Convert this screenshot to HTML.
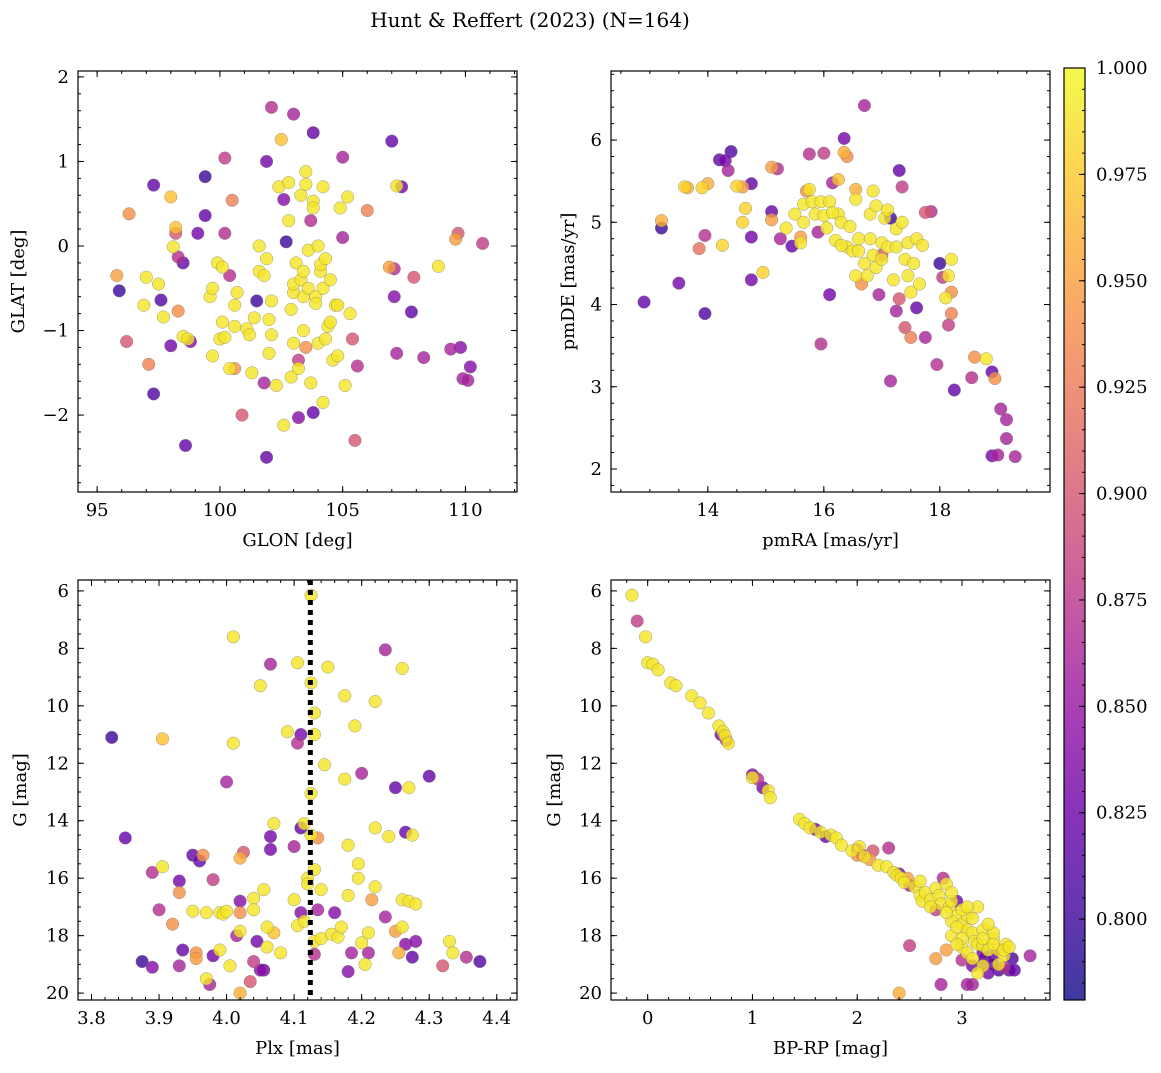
<!DOCTYPE html>
<html><head><meta charset="utf-8">
<style>
html,body{margin:0;padding:0;background:#fff;}
svg text{font-family:"DejaVu Serif","Liberation Serif",serif;fill:#000;}
</style></head>
<body>
<svg id="fig" width="1161" height="1068" xmlns="http://www.w3.org/2000/svg">
<text x="530" y="27" font-size="20" text-anchor="middle">Hunt &amp; Reffert (2023) (N=164)</text>
<defs>
<linearGradient id="plasma" x1="0" y1="1" x2="0" y2="0">
<stop offset="0" stop-color="#0d0887"/><stop offset="0.1" stop-color="#41049d"/><stop offset="0.2" stop-color="#6a00a8"/><stop offset="0.3" stop-color="#8f0da4"/><stop offset="0.4" stop-color="#b12a90"/><stop offset="0.5" stop-color="#cc4778"/><stop offset="0.6" stop-color="#e16462"/><stop offset="0.7" stop-color="#f2844b"/><stop offset="0.8" stop-color="#fca636"/><stop offset="0.9" stop-color="#fcce25"/><stop offset="1" stop-color="#f0f921"/>
</linearGradient>
</defs>
</svg>
<script>
// ---- data: [x, y, membership probability] ----
const posData = [[95.8,-0.35,.95],[95.9,-0.53,.80],[96.2,-1.13,.9],[96.3,0.38,.94],[96.9,-0.7,.99],[97.0,-0.37,.99],[97.1,-1.4,.93],[97.3,0.72,.82],[97.3,-1.75,.81],[97.5,-0.45,.99],[97.6,-0.64,.81],[97.7,-0.84,.99],[98.0,0.58,.97],[98.0,-1.18,.83],[98.1,-0.01,.99],[98.2,0.22,.97],[98.2,0.15,.9],[98.3,-0.13,.87],[98.3,-0.77,.94],[98.5,-0.2,.82],[98.5,-1.07,.99],[98.6,-2.36,.82],[98.8,-1.13,.84],[98.7,-1.1,.99],[99.1,0.15,.83],[99.4,0.82,.8],[99.4,0.36,.82],[99.6,-0.6,.99],[99.7,-0.5,.99],[99.7,-1.3,.99],[99.9,-0.2,.99],[100.0,-1.1,.99],[100.1,-0.9,.99],[100.1,-0.25,.99],[100.2,1.04,.88],[100.2,-1.08,.99],[100.2,0.15,.87],[100.4,-1.45,.99],[100.4,-0.35,.87],[100.5,0.54,.93],[100.6,-0.7,.99],[100.6,-0.95,.99],[100.6,-1.45,.94],[100.7,-0.55,.99],[100.9,-2.0,.9],[101.1,-0.98,.99],[101.2,-1.05,.99],[101.3,-1.5,.99],[101.4,-0.85,.99],[101.5,-0.65,.8],[101.6,0.0,.99],[101.6,-0.3,.99],[101.8,-1.62,.86],[101.8,-0.35,.99],[101.9,-2.5,.82],[101.9,1.0,.83],[101.9,-0.15,.99],[102.0,-1.27,.99],[102.0,-0.87,.99],[102.1,-0.65,.99],[102.1,-1.05,.99],[102.1,1.64,.87],[102.3,-1.65,.99],[102.4,0.7,.99],[102.5,1.26,.97],[102.6,-2.12,.99],[102.6,0.55,.84],[102.7,0.05,.8],[102.8,0.3,.99],[102.8,0.75,.99],[102.9,-0.75,.99],[102.9,-1.55,.99],[103.0,-0.55,.99],[103.0,1.56,.86],[103.0,-0.45,.99],[103.0,-1.15,.99],[103.1,-0.2,.99],[103.2,-2.03,.84],[103.2,-1.35,.88],[103.2,-1.45,.99],[103.3,0.6,.99],[103.3,-0.4,.99],[103.4,-0.3,.99],[103.4,-0.6,.99],[103.4,-1.0,.99],[103.5,-1.2,.94],[103.5,0.88,.99],[103.5,0.73,.99],[103.6,-0.05,.99],[103.6,-0.5,.99],[103.7,-1.62,.99],[103.7,0.3,.87],[103.8,0.53,.99],[103.8,1.34,.82],[103.8,-1.97,.82],[103.8,0.45,.99],[103.9,-0.6,.99],[103.9,-0.68,.99],[104.0,0.0,.99],[104.0,-1.15,.99],[104.1,-0.3,.99],[104.1,-0.22,.99],[104.2,-0.5,.99],[104.2,0.7,.99],[104.2,-1.85,.99],[104.3,-1.1,.99],[104.3,-0.15,.99],[104.4,-0.95,.99],[104.5,-0.4,.99],[104.5,-0.9,.99],[104.6,-1.35,.99],[104.7,-0.7,.99],[104.8,-0.7,.99],[104.8,-1.3,.99],[104.9,0.45,.99],[105.0,0.1,.86],[105.0,1.05,.86],[105.1,-1.65,.99],[105.2,0.58,.99],[105.3,-0.8,.99],[105.4,-1.1,.9],[105.5,-2.3,.9],[105.6,-1.42,.87],[106.0,0.42,.93],[106.9,-0.25,.95],[107.0,1.24,.82],[107.1,-0.6,.84],[107.1,-0.27,.87],[107.2,0.71,.99],[107.2,-1.27,.86],[107.4,0.7,.83],[107.8,-0.78,.82],[107.9,-0.37,.9],[108.3,-1.32,.86],[108.9,-0.24,.99],[109.4,-1.22,.86],[109.6,0.08,.95],[109.7,0.15,.9],[109.8,-1.2,.84],[109.9,-1.57,.86],[110.1,-1.59,.86],[110.2,-1.43,.84],[110.7,0.03,.88]];
const pmData = [[12.9,4.03,.82],[13.2,4.93,.8],[13.2,5.02,.96],[13.5,4.26,.83],[13.6,5.43,.98],[13.65,5.42,.96],[13.85,4.68,.92],[13.9,5.42,.98],[13.95,3.89,.81],[13.95,4.84,.87],[14.0,5.47,.96],[14.25,4.72,.98],[14.2,5.76,.82],[14.3,5.75,.83],[14.35,5.63,.86],[14.4,5.86,.81],[14.5,5.44,.98],[14.6,5.43,.95],[14.6,5.0,.98],[14.65,5.17,.98],[14.75,5.47,.82],[14.75,4.82,.83],[14.75,4.3,.83],[14.95,4.39,.98],[15.1,5.13,.82],[15.1,5.67,.95],[15.1,5.03,.95],[15.2,5.65,.87],[15.25,4.8,.86],[15.35,4.93,.99],[15.45,4.71,.82],[15.5,5.1,.99],[15.6,4.75,.99],[15.6,4.82,.95],[15.65,5.0,.99],[15.65,5.22,.99],[15.7,5.38,.94],[15.75,5.83,.87],[15.75,5.4,.99],[15.8,5.25,.99],[15.85,5.1,.99],[15.9,4.88,.86],[15.95,5.25,.99],[15.95,3.52,.87],[16.0,5.84,.88],[16.0,5.08,.99],[16.05,4.93,.99],[16.1,5.25,.99],[16.1,4.12,.83],[16.15,5.48,.86],[16.2,4.78,.99],[16.25,5.52,.97],[16.25,5.1,.99],[16.3,5.0,.99],[16.35,6.02,.83],[16.35,5.85,.96],[16.4,4.7,.99],[16.4,5.8,.94],[16.45,4.95,.99],[16.5,4.65,.99],[16.55,4.35,.99],[16.55,5.4,.96],[16.6,4.65,.99],[16.6,4.8,.99],[16.65,4.25,.94],[16.7,6.42,.86],[16.7,4.5,.99],[16.75,4.35,.99],[16.8,5.1,.99],[16.8,4.8,.99],[16.85,5.38,.99],[16.85,4.6,.99],[16.9,4.45,.99],[16.9,5.2,.99],[16.95,4.12,.86],[17.0,4.75,.99],[17.0,4.55,.99],[17.0,4.6,.9],[17.05,5.05,.99],[17.1,5.15,.99],[17.1,4.7,.99],[17.15,5.05,.8],[17.15,3.07,.86],[17.2,4.3,.99],[17.25,4.7,.99],[17.25,3.92,.86],[17.25,4.92,.99],[17.3,5.63,.82],[17.3,4.07,.9],[17.35,5.43,.88],[17.35,5.0,.99],[17.4,4.55,.99],[17.4,3.72,.9],[17.45,4.75,.99],[17.45,4.35,.99],[17.5,3.6,.93],[17.5,4.15,.99],[17.55,4.5,.99],[17.6,4.8,.99],[17.6,3.96,.82],[17.65,4.25,.99],[17.75,3.6,.86],[17.75,5.12,.9],[17.85,5.13,.87],[17.95,3.27,.87],[18.0,4.5,.8],[18.05,4.33,.88],[18.1,4.08,.99],[18.15,4.35,.99],[18.15,3.75,.88],[18.2,4.55,.99],[18.2,3.89,.93],[18.25,2.96,.82],[18.2,4.15,.94],[18.55,3.11,.87],[18.6,3.36,.94],[18.8,3.34,.99],[18.9,3.18,.82],[18.95,3.1,.94],[18.9,2.16,.83],[19.0,2.17,.86],[19.05,2.73,.86],[19.15,2.6,.86],[19.15,2.37,.86],[19.3,2.15,.86],[16.55,5.28,.99],[16.15,5.12,.99],[16.3,4.72,.99],[17.7,4.72,.99]];
const plxData = [[3.83,11.1,.8],[3.85,14.6,.82],[3.875,18.9,.8],[3.89,19.1,.84],[3.905,11.15,.97],[3.905,15.6,.99],[3.9,17.1,.87],[3.89,15.8,.87],[3.92,17.6,.94],[3.93,16.1,.83],[3.93,16.5,.94],[3.93,19.05,.86],[3.935,18.5,.82],[3.95,17.15,.99],[3.95,15.2,.82],[3.955,18.8,.95],[3.955,18.6,.94],[3.96,15.4,.82],[3.965,15.2,.94],[3.97,17.2,.99],[3.97,19.5,.99],[3.975,19.7,.86],[3.98,16.05,.88],[3.98,18.7,.83],[3.99,17.2,.99],[3.99,18.5,.99],[3.995,17.25,.99],[4.0,12.65,.86],[4.0,17.15,.99],[4.005,19.05,.99],[4.01,7.6,.99],[4.01,11.3,.99],[4.02,16.8,.84],[4.015,18.0,.86],[4.02,20.0,.96],[4.025,15.1,.9],[4.02,17.2,.94],[4.02,17.85,.99],[4.02,15.3,.96],[4.035,19.6,.9],[4.04,18.9,.88],[4.04,16.7,.99],[4.04,17.1,.99],[4.045,18.2,.83],[4.05,9.3,.99],[4.05,19.2,.84],[4.055,19.2,.83],[4.055,16.4,.99],[4.06,17.7,.99],[4.06,18.4,.99],[4.065,8.55,.86],[4.065,14.55,.83],[4.065,15.0,.83],[4.07,17.9,.97],[4.07,14.1,.99],[4.08,18.6,.99],[4.09,10.9,.99],[4.1,16.75,.99],[4.1,14.9,.86],[4.105,11.3,.87],[4.105,8.5,.99],[4.105,17.65,.99],[4.11,17.2,.84],[4.11,11.0,.83],[4.11,14.25,.82],[4.115,14.1,.99],[4.115,17.5,.99],[4.12,16.0,.99],[4.12,16.2,.99],[4.125,6.15,.99],[4.125,9.2,.99],[4.125,13.05,.99],[4.125,14.5,.99],[4.13,10.25,.99],[4.13,11.0,.99],[4.13,15.7,.99],[4.13,18.2,.99],[4.13,18.65,.87],[4.135,14.6,.94],[4.135,17.1,.86],[4.14,16.4,.99],[4.14,18.1,.99],[4.145,12.05,.99],[4.15,8.65,.99],[4.155,17.95,.99],[4.16,17.2,.84],[4.165,18.05,.99],[4.17,17.7,.99],[4.175,9.65,.99],[4.175,12.55,.99],[4.18,14.85,.99],[4.18,16.6,.99],[4.18,19.25,.84],[4.185,18.6,.86],[4.19,10.7,.99],[4.195,16.0,.99],[4.195,15.5,.99],[4.2,12.35,.86],[4.2,18.25,.99],[4.205,19.0,.99],[4.21,17.9,.99],[4.21,18.6,.86],[4.22,9.85,.99],[4.22,16.3,.99],[4.22,14.25,.99],[4.215,16.75,.95],[4.235,8.05,.86],[4.235,17.35,.86],[4.24,14.55,.99],[4.25,12.85,.82],[4.25,17.85,.95],[4.255,18.6,.96],[4.26,8.7,.99],[4.26,16.75,.99],[4.26,17.7,.99],[4.265,14.4,.82],[4.265,18.3,.84],[4.27,12.85,.99],[4.27,16.8,.99],[4.275,14.5,.99],[4.275,18.75,.82],[4.28,16.9,.99],[4.28,18.2,.84],[4.3,12.45,.82],[4.32,19.05,.9],[4.33,18.2,.99],[4.335,18.6,.99],[4.355,18.75,.87],[4.375,18.9,.81]];
const cmdData = [[-0.15,6.15,.99],[-0.1,7.05,.88],[-0.02,7.6,.99],[0.0,8.5,.99],[0.05,8.55,.99],[0.1,8.75,.99],[0.22,9.2,.99],[0.27,9.3,.99],[0.42,9.65,.99],[0.5,9.9,.99],[0.58,10.25,.99],[0.68,10.7,.99],[0.7,11.0,.83],[0.72,10.9,.99],[0.74,11.05,.99],[0.75,11.2,.87],[0.77,11.3,.99],[1.0,12.4,.84],[1.0,12.5,.99],[1.05,12.55,.87],[1.1,12.85,.83],[1.15,12.95,.99],[1.17,13.2,.99],[1.45,13.95,.99],[1.5,14.1,.99],[1.55,14.25,.99],[1.6,14.3,.83],[1.65,14.4,.99],[1.7,14.55,.82],[1.75,14.5,.99],[1.8,14.6,.99],[1.85,14.85,.99],[1.95,15.05,.99],[2.0,15.0,.86],[2.02,14.9,.99],[2.05,15.2,.83],[2.07,15.25,.99],[2.12,15.35,.95],[2.0,15.2,.94],[2.15,15.05,.9],[2.2,15.55,.99],[2.28,15.6,.99],[2.3,14.95,.87],[2.35,15.8,.99],[2.4,15.85,.83],[2.38,15.9,.99],[2.42,16.0,.99],[2.45,16.15,.99],[2.5,16.25,.86],[2.48,16.0,.95],[2.55,16.3,.99],[2.6,16.6,.99],[2.62,16.8,.99],[2.65,16.5,.99],[2.7,16.75,.99],[2.75,16.35,.99],[2.78,16.6,.99],[2.8,16.9,.99],[2.82,16.0,.87],[2.85,16.2,.99],[2.88,17.0,.99],[2.9,16.8,.99],[2.95,17.3,.99],[3.0,17.6,.99],[3.05,17.3,.99],[2.95,16.8,.83],[3.0,17.1,.99],[3.05,17.8,.99],[3.1,17.9,.99],[3.12,18.2,.99],[3.15,18.3,.99],[3.2,18.35,.99],[3.2,18.6,.83],[3.22,18.8,.81],[3.25,18.5,.99],[3.3,18.7,.82],[3.3,19.0,.82],[3.35,19.2,.81],[3.4,19.1,.87],[3.45,19.2,.82],[3.5,19.2,.82],[3.65,18.7,.86],[3.35,18.5,.99],[3.4,18.7,.99],[3.42,18.3,.99],[3.3,18.1,.99],[3.2,17.8,.99],[3.1,17.4,.99],[3.15,17.0,.99],[2.9,17.5,.99],[2.85,17.2,.99],[2.9,18.0,.99],[2.85,18.5,.95],[2.75,18.8,.95],[3.0,18.4,.99],[3.0,18.85,.87],[3.1,19.05,.83],[3.2,19.0,.84],[3.05,18.6,.99],[3.25,19.3,.83],[3.1,19.7,.86],[3.2,19.05,.99],[3.3,18.3,.99],[3.4,18.5,.99],[3.48,18.8,.81],[3.1,18.8,.99],[3.15,19.3,.99],[2.8,19.7,.86],[3.05,19.7,.86],[2.4,20.0,.96],[2.5,18.35,.88],[3.45,18.4,.99],[3.3,17.9,.99],[3.0,18.1,.99],[2.95,17.7,.99],[3.2,18.1,.99],[2.7,17.0,.99],[2.6,16.1,.99],[2.75,17.1,.88],[2.9,16.5,.99],[3.05,17.0,.99],[3.25,17.6,.99],[2.95,18.3,.99],[3.35,19.0,.99]];
const clusterPlx = 4.124;
const xTicksPos = [95,100,105,110], yTicksPos = [-2,-1,0,1,2];
const xTicksPm = [14,16,18], yTicksPm = [2,3,4,5,6];
const xTicksPlx = [3.8,3.9,4.0,4.1,4.2,4.3,4.4], yTicksG = [6,8,10,12,14,16,18,20];
const xTicksCol = [0,1,2,3];
const cbTicks = [0.8,0.825,0.85,0.875,0.9,0.925,0.95,0.975,1.0];
const cMin = 0.781, cMax = 1.0;

const NS = "http://www.w3.org/2000/svg";
const svg = document.getElementById('fig');
function el(tag, attrs, parent){const e=document.createElementNS(NS,tag);for(const k in attrs)e.setAttribute(k,attrs[k]);(parent||svg).appendChild(e);return e;}
const stops=[[0,[13,8,135]],[.1,[65,4,157]],[.2,[106,0,168]],[.3,[143,13,164]],[.4,[177,42,144]],[.5,[204,71,120]],[.6,[225,100,98]],[.7,[242,132,75]],[.8,[252,166,54]],[.9,[252,206,37]],[1,[240,249,33]]];
function plasma(v){let t=(v-cMin)/(cMax-cMin);t=Math.max(0,Math.min(1,t));for(let i=1;i<stops.length;i++){if(t<=stops[i][0]){const a=stops[i-1],b=stops[i];const f=(t-a[0])/(b[0]-a[0]);const c=a[1].map((x,j)=>Math.round(x+(b[1][j]-x)*f));return `rgb(${c[0]},${c[1]},${c[2]})`;}}return 'rgb(240,249,33)';}
function fmt(v,d){return v<0?'\u2212'+Math.abs(v).toFixed(d):v.toFixed(d);}

function panel(cfg){
  const {name,L,R,T,B,x0,x1,y0,y1,data,xt,yt,xmin,ymin,xd,yd,xlabel,ylabel} = cfg;
  const g = el('g',{});
  
  
  const sx = v => L + (v-x0)/(x1-x0)*(R-L);
  const sy = v => T + (v-y0)/(y1-y0)*(B-T);
  const pts = data.slice().sort((a,b)=>a[2]-b[2]);
  for(const d of pts){
    const c = el('circle',{cx:sx(d[0]),cy:sy(d[1]),r:6.3,fill:plasma(d[2]),'fill-opacity':0.8,stroke:'#777','stroke-width':0.5,'stroke-opacity':0.7},g);
    
    
  }
  if(cfg.vline!==undefined){
    const l = el('line',{x1:sx(cfg.vline),x2:sx(cfg.vline),y1:T,y2:B,stroke:'#000','stroke-width':5,'stroke-dasharray':'5,5'},g);
    
    
  }
  el('rect',{x:L,y:T,width:R-L,height:B-T,fill:'none',stroke:'#000','stroke-width':1.2},g);
  const lo=Math.min(x0,x1),hi=Math.max(x0,x1);
  for(let v=Math.ceil(lo/xmin-1e-9)*xmin; v<=hi+1e-9; v+=xmin){const x=sx(v);el('line',{x1:x,x2:x,y1:B,y2:B-3,stroke:'#000'},g);el('line',{x1:x,x2:x,y1:T,y2:T+3,stroke:'#000'},g);}
  const ylo=Math.min(y0,y1),yhi=Math.max(y0,y1);
  for(let v=Math.ceil(ylo/ymin-1e-9)*ymin; v<=yhi+1e-9; v+=ymin){const y=sy(v);el('line',{x1:L,x2:L+3,y1:y,y2:y,stroke:'#000'},g);el('line',{x1:R,x2:R-3,y1:y,y2:y,stroke:'#000'},g);}
  for(const v of xt){const x=sx(v);el('line',{x1:x,x2:x,y1:B,y2:B-6,stroke:'#000'},g);el('line',{x1:x,x2:x,y1:T,y2:T+6,stroke:'#000'},g);
    const t=el('text',{x:x,y:B+24,'font-size':18,'text-anchor':'middle'},g);t.textContent=fmt(v,xd);}
  for(const v of yt){const y=sy(v);el('line',{x1:L,x2:L+6,y1:y,y2:y,stroke:'#000'},g);el('line',{x1:R,x2:R-6,y1:y,y2:y,stroke:'#000'},g);
    const t=el('text',{x:L-9,y:y+6,'font-size':18,'text-anchor':'end'},g);t.textContent=fmt(v,yd);}
  const xl=el('text',{x:(L+R)/2,y:B+54,'font-size':18,'text-anchor':'middle'},g);xl.textContent=xlabel;
  
  const yx=cfg.ylx, yc=(T+B)/2;
  const yl=el('text',{x:yx,y:yc,'font-size':18,'text-anchor':'middle',transform:`rotate(-90 ${yx} ${yc})`},g);yl.textContent=ylabel;
  
}

panel({name:'position-panel',L:78,R:517,T:71,B:492,x0:94.22,x1:112.1,y0:2.07,y1:-2.91,data:posData,xt:xTicksPos,yt:yTicksPos,xmin:1,ymin:0.2,xd:0,yd:0,xlabel:'GLON [deg]',ylabel:'GLAT [deg]',ylx:24});
panel({name:'proper-motion-panel',L:611,R:1050,T:71,B:492,x0:12.33,x1:19.9,y0:6.84,y1:1.72,data:pmData,xt:xTicksPm,yt:yTicksPm,xmin:0.5,ymin:0.2,xd:0,yd:0,xlabel:'pmRA [mas/yr]',ylabel:'pmDE [mas/yr]',ylx:574});
panel({name:'parallax-panel',L:78,R:517,T:580,B:1000,x0:3.78,x1:4.43,y0:5.62,y1:20.24,data:plxData,xt:xTicksPlx,yt:yTicksG,xmin:0.02,ymin:0.5,xd:1,yd:0,xlabel:'Plx [mas]',ylabel:'G [mag]',ylx:26,vline:clusterPlx});
panel({name:'cmd-panel',L:611,R:1050,T:580,B:1000,x0:-0.35,x1:3.84,y0:5.62,y1:20.24,data:cmdData,xt:xTicksCol,yt:yTicksG,xmin:0.2,ymin:0.5,xd:0,yd:0,xlabel:'BP-RP [mag]',ylabel:'G [mag]',ylx:560});

// colorbar
const cb = el('g',{});


const cL=1064,cR=1085,cT=68,cB=1000;
el('rect',{x:cL,y:cT,width:cR-cL,height:cB-cT,fill:'url(#plasma)','fill-opacity':0.8},cb);
el('rect',{x:cL,y:cT,width:cR-cL,height:cB-cT,fill:'none',stroke:'#000','stroke-width':1.2},cb);
const cy = v => cB - (v-cMin)/(cMax-cMin)*(cB-cT);
for(let v=0.785; v<=1.0001; v+=0.005){el('line',{x1:cR,x2:cR-3,y1:cy(v),y2:cy(v),stroke:'#000'},cb);}
for(const v of cbTicks){const y=cy(v);el('line',{x1:cR,x2:cR-6,y1:y,y2:y,stroke:'#000'},cb);
  const t=el('text',{x:cR+11,y:y+6,'font-size':18},cb);t.textContent=v.toFixed(3);
  }
</script>
</body></html>
